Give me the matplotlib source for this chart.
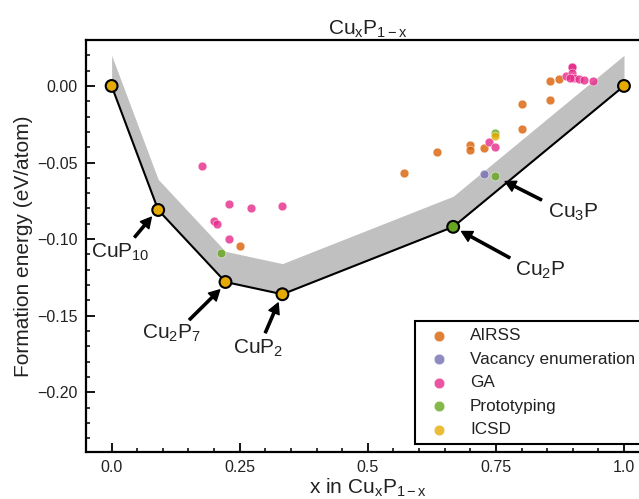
# ---------- Cu-P convex hull plot ----------

import matplotlib
matplotlib.use("Agg")
import matplotlib.pyplot as plt
from matplotlib.ticker import MultipleLocator, FixedLocator, FixedFormatter

# ---------- Data ----------

hull_x = [0.0, 1 / 11, 2 / 9, 1 / 3, 2 / 3, 1.0]
hull_y = [0.0, -0.081, -0.128, -0.136, -0.092, 0.0]
hull_colors = ["ICSD", "ICSD", "ICSD", "ICSD", "Prototyping", "ICSD"]
band_width = 0.02

airss_x = [0.250, 0.570, 0.635, 0.699, 0.699, 0.727, 0.800, 0.800, 0.855, 0.855, 0.874]
airss_y = [-0.1048, -0.0566, -0.0433, -0.0387, -0.0417, -0.0407, -0.0278, -0.0120, -0.0089, 0.0035, 0.0046]

vacancy_x = [0.727]
vacancy_y = [-0.0576]

ga_x = [0.176, 0.2285, 0.273, 0.333, 0.199, 0.206, 0.2285, 0.737, 0.749,
        0.887, 0.899, 0.899, 0.899, 0.903, 0.913, 0.922, 0.940, 0.894]
ga_y = [-0.0522, -0.0772, -0.0794, -0.0787, -0.0885, -0.0900, -0.0998, -0.0365, -0.0396,
        0.0067, 0.0126, 0.0126, 0.0083, 0.0054, 0.0046, 0.0039, 0.0035, 0.0050]

proto_x = [0.214, 0.749, 0.749]
proto_y = [-0.1091, -0.0308, -0.0590]

icsd_x = [0.749]
icsd_y = [-0.0330]

colors = {
    "AIRSS": "#d95f02",
    "Vacancy enumeration": "#7570b3",
    "GA": "#e7298a",
    "Prototyping": "#66a61e",
    "ICSD": "#e6ab02",
}

# phase labels: name, arrow tip, arrow tail, text centre
labels = ["CuP$_{10}$", "Cu$_2$P$_7$", "CuP$_2$", "Cu$_2$P", "Cu$_3$P"]
tips = [(0.0775, -0.0857), (0.211, -0.1331), (0.325, -0.1417), (0.683, -0.0950), (0.768, -0.0624)]
tails = [(0.045, -0.0987), (0.152, -0.1526), (0.300, -0.1611), (0.777, -0.1122), (0.839, -0.0744)]
text_pos = [(0.016, -0.1085), (0.117, -0.1615), (0.285, -0.1715), (0.836, -0.1205), (0.900, -0.0825)]

# ---------- Style ----------

plt.rcParams["font.family"] = ["Liberation Sans", "DejaVu Sans"]
plt.rcParams["mathtext.fontset"] = "custom"
plt.rcParams["mathtext.rm"] = "Liberation Sans"
plt.rcParams["mathtext.it"] = "Liberation Sans:italic"
plt.rcParams["mathtext.bf"] = "Liberation Sans:bold"
plt.rcParams["text.color"] = "#222222"
plt.rcParams["axes.labelcolor"] = "#222222"
plt.rcParams["xtick.color"] = "black"
plt.rcParams["ytick.color"] = "black"
plt.rcParams["xtick.labelcolor"] = "#222222"
plt.rcParams["ytick.labelcolor"] = "#222222"

# ---------- Plot ----------

fig = plt.figure(figsize=(6.39, 4.99), dpi=100)
W, H = 639, 499
ax = fig.add_axes([86 / W, (H - 452) / H, (649.6 - 86) / W, (452 - 40) / H])

ax.fill_between(hull_x, hull_y, [y + band_width for y in hull_y],
                color="#c0c0c0", lw=0, zorder=1)
ax.plot(hull_x, hull_y, color="black", lw=1.5, zorder=2)

sc_kw = dict(s=40, alpha=0.8, edgecolors="white", linewidths=0.4, zorder=3)
ax.scatter(airss_x, airss_y, color=colors["AIRSS"], label="AIRSS", **sc_kw)
ax.scatter(vacancy_x, vacancy_y, color=colors["Vacancy enumeration"], label="Vacancy enumeration", **sc_kw)
ax.scatter(ga_x, ga_y, color=colors["GA"], label="GA", **sc_kw)
ax.scatter(proto_x, proto_y, color=colors["Prototyping"], label="Prototyping", **sc_kw)
ax.scatter(icsd_x, icsd_y, color=colors["ICSD"], label="ICSD", **sc_kw)

ax.scatter(hull_x, hull_y, c=[colors[c] for c in hull_colors], s=72,
           edgecolors="black", linewidths=1.5, zorder=4)

for lab, tip, tail, pos in zip(labels, tips, tails, text_pos):
    ax.annotate("", xy=tip, xytext=tail,
                arrowprops=dict(facecolor="black", edgecolor="black", width=1.6,
                                headwidth=8, headlength=7.5, shrink=0))
    ax.text(pos[0], pos[1], lab, fontsize=15, ha="center", va="center")

# ---------- Axes ----------

ax.set_xlim(-0.05, 1.05)
ax.set_ylim(-0.239, 0.03)

ax.xaxis.set_major_locator(FixedLocator([0, 0.25, 0.5, 0.75, 1.0]))
ax.xaxis.set_major_formatter(FixedFormatter(["0.0", "0.25", "0.5", "0.75", "1.0"]))
ax.xaxis.set_minor_locator(MultipleLocator(0.05))
ax.yaxis.set_major_locator(FixedLocator([0, -0.05, -0.10, -0.15, -0.20]))
ax.yaxis.set_major_formatter(FixedFormatter(["0.00", "\u22120.05", "\u22120.10", "\u22120.15", "\u22120.20"]))
ax.yaxis.set_minor_locator(MultipleLocator(0.01))

ax.tick_params(which="major", direction="in", length=6.5, width=1.3, labelsize=11.5, pad=6)
ax.tick_params(which="minor", direction="in", length=3, width=1.1)
for sp in ax.spines.values():
    sp.set_linewidth(1.6)

ax.set_xlabel("x in Cu$_\\mathrm{x}$P$_\\mathrm{1-x}$", fontsize=15, labelpad=1)
ax.set_ylabel("Formation energy (eV/atom)", fontsize=15, labelpad=3)
ax.set_title("Cu$_\\mathrm{x}$P$_\\mathrm{1-x}$", fontsize=15, pad=2)

leg = ax.legend(loc="lower right", fontsize=12.3, fancybox=False, framealpha=1,
                edgecolor="black", markerscale=1.2, borderaxespad=0.45)
leg.get_frame().set_linewidth(1.5)

plt.savefig("out.png", dpi=100)
